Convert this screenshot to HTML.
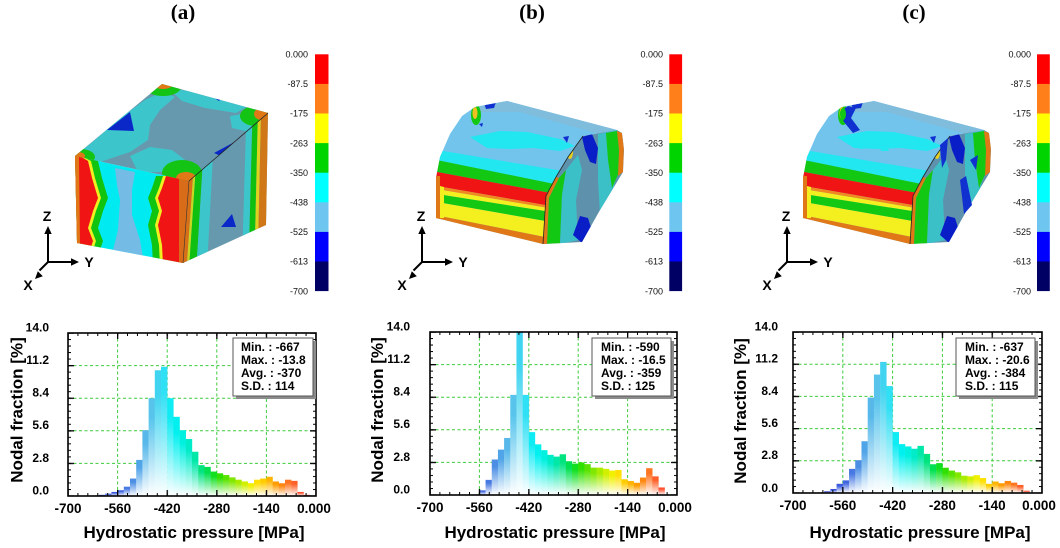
<!DOCTYPE html>
<html><head><meta charset="utf-8"><style>
html,body{margin:0;padding:0;background:#fff}
svg{display:block}
.ti{font-family:"Liberation Serif",serif;font-weight:bold;font-size:21px;text-anchor:middle}
.cb{font-family:"Liberation Sans",sans-serif;font-size:9px;text-anchor:end;fill:#111}
.ax{font-family:"Liberation Sans",sans-serif;font-weight:bold;font-size:14px;text-anchor:middle}
.yt{font-family:"Liberation Sans",sans-serif;font-weight:bold;font-size:12px;text-anchor:end}
.xt{font-family:"Liberation Sans",sans-serif;font-weight:bold;font-size:13.5px;text-anchor:middle}
.lb{font-family:"Liberation Sans",sans-serif;font-weight:bold;font-size:17px;text-anchor:middle}
.st{font-family:"Liberation Sans",sans-serif;font-weight:bold;font-size:12px}
</style></head><body>
<svg xmlns="http://www.w3.org/2000/svg" width="1060" height="548" viewBox="0 0 1060 548">
<defs>
<linearGradient id="g4" x2="0" y2="1"><stop offset=".2" stop-color="#2a3ad0"/><stop offset="1" stop-color="#fff"/></linearGradient>
<linearGradient id="g5" x2="0" y2="1"><stop offset=".2" stop-color="#2e44d8"/><stop offset="1" stop-color="#fff"/></linearGradient>
<linearGradient id="g6" x2="0" y2="1"><stop offset=".2" stop-color="#3450dc"/><stop offset="1" stop-color="#fff"/></linearGradient>
<linearGradient id="g7" x2="0" y2="1"><stop offset=".2" stop-color="#3a5ade"/><stop offset="1" stop-color="#fff"/></linearGradient>
<linearGradient id="g8" x2="0" y2="1"><stop offset=".2" stop-color="#4066e0"/><stop offset="1" stop-color="#fff"/></linearGradient>
<linearGradient id="g9" x2="0" y2="1"><stop offset=".2" stop-color="#4878e2"/><stop offset="1" stop-color="#fff"/></linearGradient>
<linearGradient id="g10" x2="0" y2="1"><stop offset=".2" stop-color="#4c8ee4"/><stop offset="1" stop-color="#fff"/></linearGradient>
<linearGradient id="g11" x2="0" y2="1"><stop offset=".2" stop-color="#50a4e8"/><stop offset="1" stop-color="#fff"/></linearGradient>
<linearGradient id="g12" x2="0" y2="1"><stop offset=".2" stop-color="#58b8ea"/><stop offset="1" stop-color="#fff"/></linearGradient>
<linearGradient id="g13" x2="0" y2="1"><stop offset=".2" stop-color="#58c4ec"/><stop offset="1" stop-color="#fff"/></linearGradient>
<linearGradient id="g14" x2="0" y2="1"><stop offset=".2" stop-color="#40d4f0"/><stop offset="1" stop-color="#fff"/></linearGradient>
<linearGradient id="g15" x2="0" y2="1"><stop offset=".2" stop-color="#30e0f4"/><stop offset="1" stop-color="#fff"/></linearGradient>
<linearGradient id="g16" x2="0" y2="1"><stop offset=".2" stop-color="#10ecf4"/><stop offset="1" stop-color="#fff"/></linearGradient>
<linearGradient id="g17" x2="0" y2="1"><stop offset=".2" stop-color="#00f0f0"/><stop offset="1" stop-color="#fff"/></linearGradient>
<linearGradient id="g18" x2="0" y2="1"><stop offset=".2" stop-color="#00f0e0"/><stop offset="1" stop-color="#fff"/></linearGradient>
<linearGradient id="g19" x2="0" y2="1"><stop offset=".2" stop-color="#00ecc8"/><stop offset="1" stop-color="#fff"/></linearGradient>
<linearGradient id="g20" x2="0" y2="1"><stop offset=".2" stop-color="#00e8a8"/><stop offset="1" stop-color="#fff"/></linearGradient>
<linearGradient id="g21" x2="0" y2="1"><stop offset=".2" stop-color="#00e480"/><stop offset="1" stop-color="#fff"/></linearGradient>
<linearGradient id="g22" x2="0" y2="1"><stop offset=".2" stop-color="#00e050"/><stop offset="1" stop-color="#fff"/></linearGradient>
<linearGradient id="g23" x2="0" y2="1"><stop offset=".2" stop-color="#10e020"/><stop offset="1" stop-color="#fff"/></linearGradient>
<linearGradient id="g24" x2="0" y2="1"><stop offset=".2" stop-color="#30e000"/><stop offset="1" stop-color="#fff"/></linearGradient>
<linearGradient id="g25" x2="0" y2="1"><stop offset=".2" stop-color="#58e400"/><stop offset="1" stop-color="#fff"/></linearGradient>
<linearGradient id="g26" x2="0" y2="1"><stop offset=".2" stop-color="#80e800"/><stop offset="1" stop-color="#fff"/></linearGradient>
<linearGradient id="g27" x2="0" y2="1"><stop offset=".2" stop-color="#a8ec00"/><stop offset="1" stop-color="#fff"/></linearGradient>
<linearGradient id="g28" x2="0" y2="1"><stop offset=".2" stop-color="#d0f000"/><stop offset="1" stop-color="#fff"/></linearGradient>
<linearGradient id="g29" x2="0" y2="1"><stop offset=".2" stop-color="#f0f000"/><stop offset="1" stop-color="#fff"/></linearGradient>
<linearGradient id="g30" x2="0" y2="1"><stop offset=".2" stop-color="#ffe000"/><stop offset="1" stop-color="#fff"/></linearGradient>
<linearGradient id="g31" x2="0" y2="1"><stop offset=".2" stop-color="#ffcc00"/><stop offset="1" stop-color="#fff"/></linearGradient>
<linearGradient id="g32" x2="0" y2="1"><stop offset=".2" stop-color="#ffb400"/><stop offset="1" stop-color="#fff"/></linearGradient>
<linearGradient id="g33" x2="0" y2="1"><stop offset=".2" stop-color="#ff9c00"/><stop offset="1" stop-color="#fff"/></linearGradient>
<linearGradient id="g34" x2="0" y2="1"><stop offset=".2" stop-color="#ff8810"/><stop offset="1" stop-color="#fff"/></linearGradient>
<linearGradient id="g35" x2="0" y2="1"><stop offset=".2" stop-color="#ff7420"/><stop offset="1" stop-color="#fff"/></linearGradient>
<linearGradient id="g36" x2="0" y2="1"><stop offset=".2" stop-color="#ff6028"/><stop offset="1" stop-color="#fff"/></linearGradient>
<linearGradient id="g37" x2="0" y2="1"><stop offset=".2" stop-color="#ff5030"/><stop offset="1" stop-color="#fff"/></linearGradient>
<linearGradient id="g38" x2="0" y2="1"><stop offset=".2" stop-color="#ff4030"/><stop offset="1" stop-color="#fff"/></linearGradient>

<pattern id="txa" patternUnits="userSpaceOnUse" x="67.5" y="0" width="9.92" height="8"><rect width="1" height="8"/></pattern>
<pattern id="Txa" patternUnits="userSpaceOnUse" x="67.4" y="0" width="49.6" height="8"><rect width="1.3" height="8"/></pattern>
<pattern id="tya" patternUnits="userSpaceOnUse" x="0" y="332.5" width="8" height="6.52"><rect width="8" height="1"/></pattern>
<pattern id="Tya" patternUnits="userSpaceOnUse" x="0" y="332.4" width="8" height="32.6"><rect width="8" height="1.3"/></pattern>

<pattern id="txb" patternUnits="userSpaceOnUse" x="429.5" y="0" width="9.88" height="8"><rect width="1" height="8"/></pattern>
<pattern id="Txb" patternUnits="userSpaceOnUse" x="429.4" y="0" width="49.4" height="8"><rect width="1.3" height="8"/></pattern>
<pattern id="tyb" patternUnits="userSpaceOnUse" x="0" y="331.5" width="8" height="6.52"><rect width="8" height="1"/></pattern>
<pattern id="Tyb" patternUnits="userSpaceOnUse" x="0" y="331.4" width="8" height="32.6"><rect width="8" height="1.3"/></pattern>

<pattern id="txc" patternUnits="userSpaceOnUse" x="792.5" y="0" width="9.96" height="8"><rect width="1" height="8"/></pattern>
<pattern id="Txc" patternUnits="userSpaceOnUse" x="792.4" y="0" width="49.8" height="8"><rect width="1.3" height="8"/></pattern>
<pattern id="tyc" patternUnits="userSpaceOnUse" x="0" y="331.5" width="8" height="6.44"><rect width="8" height="1"/></pattern>
<pattern id="Tyc" patternUnits="userSpaceOnUse" x="0" y="331.4" width="8" height="32.2"><rect width="8" height="1.3"/></pattern>

<clipPath id="cTa"><polygon points="162,84 268,113 189,181 75,156"/></clipPath>
<clipPath id="cFa"><polygon points="75,156 189,181 183,263 77,243"/></clipPath>
<clipPath id="cRa"><polygon points="189,181 268,113 266,225 183,263"/></clipPath>
<clipPath id="cSb"><polygon points="436,178 440,157 450,134 462,116 475,107 507,101 617,130 583,136 568,157 556,177 546,196 543,244 436,218"/></clipPath>
<clipPath id="cRb"><polygon points="583,136 617,130 622,133 624,150 623,172 600,210 582,242 543,244 546,196 556,177 568,157"/></clipPath>
</defs>

<rect width="1060" height="548" fill="#fff"/>

<!-- Titles -->
<text x="183" y="19" class="ti">(a)</text>
<text x="532" y="19" class="ti">(b)</text>
<text x="914" y="19" class="ti">(c)</text>

<!-- ============ CUBE A ============ -->
<g clip-path="url(#cTa)">
<rect x="70" y="80" width="200" height="105" fill="#6799ae"/>
<polygon fill="#3cc6cc" points="75,156 95,140 120,118 145,100 162,92 175,97 160,110 150,125 148,140 130,152 100,162"/>
<polygon fill="#3cc6cc" points="168,88 215,95 248,106 236,113 205,108 182,101"/>
<polygon fill="#3cc6cc" points="130,156 150,147 172,150 185,160 172,172 138,172"/>
<polygon fill="#3cc6cc" points="230,116 255,112 268,113 250,132 232,128"/>
<ellipse cx="163" cy="87" rx="18" ry="9" fill="#14c414"/>
<ellipse cx="163" cy="84" rx="10" ry="5" fill="#e07818"/>
<ellipse cx="256" cy="116" rx="16" ry="10" fill="#14c414"/>
<ellipse cx="262" cy="114" rx="8" ry="6" fill="#e07818"/>
<ellipse cx="81" cy="157" rx="14" ry="8" fill="#14c414"/>
<ellipse cx="78" cy="156" rx="7" ry="4" fill="#e07818"/>
<ellipse cx="182" cy="173" rx="20" ry="13" fill="#14c414"/>
<ellipse cx="186" cy="178" rx="10" ry="6" fill="#e07818"/>
<polygon fill="#0a28c8" points="107,130 130,112 134,131"/>
<polygon fill="#0a28c8" points="214,153 240,139 237,163"/>
<polygon fill="#0a28c8" points="213,97 224,95 219,101"/>
</g>
<g clip-path="url(#cFa)">
<rect x="70" y="150" width="125" height="120" fill="#00eaf2"/>
<polygon fill="#74bce6" points="115,168 135,172 132,190 132,215 140,240 143,258 113,250 118,230 120,200 117,185"/>
<polygon fill="#10c410" points="70,150 98,161 102,178 108,198 103,211 98,228 103,241 100,250 70,250"/>
<polygon fill="#f0f020" points="70,150 91,161 95,178 101,198 96,211 91,228 96,241 93,250 70,250"/>
<polygon fill="#f01414" points="70,150 88,161 92,178 98,198 93,211 88,228 93,241 90,250 70,250"/>
<polygon fill="#e07818" points="70,150 79,156 80,245 70,250"/>
<polygon fill="#10c410" points="156,176 152,188 148,198 152,211 148,225 152,245 153,265 195,265 195,176"/>
<polygon fill="#f0f020" points="163,176 159,188 155,198 159,211 155,225 159,245 160,265 195,265 195,176"/>
<polygon fill="#f01414" points="166,176 162,188 158,198 162,211 158,225 162,245 163,265 195,265 195,176"/>
<polygon fill="#d86c18" points="179,176 195,176 195,265 179,265"/>
</g>
<g clip-path="url(#cRa)">
<rect x="180" y="108" width="92" height="158" fill="#6799ae"/>
<polygon fill="#d87018" points="189,181 192.95,177.6 187.15,261.1 183,263"/>
<polygon fill="#c8d820" points="192.95,177.6 195.3,175.6 189.6,260 187.15,261.1"/>
<polygon fill="#10c010" points="195.3,175.6 202.4,169.4 197.1,256.5 189.6,260"/>
<polygon fill="#3cc6cc" points="202.4,169.4 212.7,160.6 207.9,251.6 197.1,256.5"/>
<polygon fill="#3cc6cc" points="245.9,132 252.2,126.6 249.4,232.6 242.8,235.6"/>
<polygon fill="#10c010" points="252.2,126.6 257.7,121.8 255.2,230 249.4,232.6"/>
<polygon fill="#e0d020" points="257.7,121.8 260.9,119.1 258.5,228.4 255.2,230"/>
<polygon fill="#d07818" points="260.9,119.1 272,110 272,226 258.5,228.4"/>
<polygon fill="#0a28c8" points="221,227 232,214 236,227"/>
</g>
<line x1="189" y1="181" x2="268" y2="113" stroke="#222" stroke-width="0.8"/>
<line x1="189" y1="181" x2="183" y2="263" stroke="#333" stroke-width="0.6"/>

<!-- ============ CUBE B ============ -->
<g id="cubeB">
<g clip-path="url(#cSb)">
<rect x="430" y="95" width="192" height="160" fill="#72c4ec"/>
<polygon fill="#80bcdc" points="475,104 507,100 617,129 600,134 520,112 480,112"/>
<polygon fill="#22e6f0" points="470,137 500,131 527,132 560,139 575,146 560,151 533,148 510,149 487,148"/>
<polygon fill="#22e6f0" points="430,148.8 560,170.5 560,185.1 430,158.6"/>
<polygon fill="#12c812" points="430,158.6 560,185.1 560,194.8 430,170.7"/>
<polygon fill="#f01414" points="430,170.7 560,194.8 560,207.6 430,184.8"/>
<polygon fill="#f08a20" points="430,184.8 560,207.6 560,210 430,188"/>
<polygon fill="#f4f020" points="430,188 560,210 560,213.4 430,192.9"/>
<polygon fill="#12c812" points="430,192.9 560,213.4 560,223.6 430,200.8"/>
<polygon fill="#f4f020" points="430,200.8 560,223.6 560,240 430,214"/>
<polygon fill="#e07818" points="430,214 560,240 560,260 430,260"/>
<polygon fill="#e07818" points="430,176 440,176 440,220 430,220"/>
<polygon fill="#f4f020" points="440,186 444,187 444,218 440,218"/>
<ellipse cx="476" cy="115" rx="5" ry="10" fill="#12c812"/>
<ellipse cx="475" cy="113" rx="2.5" ry="6" fill="#f0c020"/>
<polygon fill="#1030d0" points="484,103 496,102 494,108 486,109"/>
<polygon fill="#1030d0" points="479,124 483,123 482,127"/>
<polygon fill="#1030d0" points="563,137 569,136 567,143"/>
</g>
<g clip-path="url(#cRb)">
<rect x="540" y="125" width="88" height="125" fill="#5e92ac"/>
<polygon fill="#e07818" points="546,196 556,177 559,178 549,198 547,246 543,246"/>
<polygon fill="#12c812" points="549,198 559,178 566,170 562,195 560,244 547,246"/>
<polygon fill="#3cc0c8" points="566,170 578,155 582,170 576,200 578,240 560,244 562,195"/>
<polygon fill="#3cc0c8" points="598,134 617,130 620,160 612,195 600,215 598,180"/>
<polygon fill="#12c812" points="606,133 617,131 621,145 620,170 612,188 608,160"/>
<polygon fill="#e07818" points="617,131 622,133 624,145 623,172 618,176 619,150"/>
<polygon fill="#0a1ec8" points="582,137 592,134 598,148 596,164 590,162 585,150"/>
<polygon fill="#0a1ec8" points="573,235 580,216 588,218 593,234 582,243"/>
<polygon fill="#0a1ec8" points="600,212 606,204 604,222"/>
<ellipse cx="570" cy="152" rx="3" ry="7" fill="#e8d020"/>
</g>
<polyline points="583,136 568,157 556,177 546,196 543,244" fill="none" stroke="#222" stroke-width="0.8"/>
</g>

<!-- ============ CUBE C ============ -->
<use href="#cubeB" transform="translate(367,0)"/>
<polygon fill="#1030d0" points="840,112 848,106 856,108 851,118 860,130 853,133 844,122"/>
<ellipse cx="843" cy="114" rx="3" ry="6" fill="#12c812"/>
<polygon fill="#1030d0" points="940,145 948,138 946,160 942,168"/>
<polygon fill="#1030d0" points="960,180 966,176 972,205 964,214"/>
<polygon fill="#1030d0" points="970,160 978,155 976,170"/>
<polygon fill="#22e6f0" points="858,146 870,144 872,148 860,149"/>
<polygon fill="#22e6f0" points="880,148 888,147 889,151 881,151"/>

<!-- Colorbars -->
<g>
<rect x="315" y="54.3" width="13.5" height="29.9" fill="#ff0000"/>
<rect x="315" y="83.9" width="13.5" height="29.9" fill="#ff7f1a"/>
<rect x="315" y="113.5" width="13.5" height="29.9" fill="#ffff00"/>
<rect x="315" y="143.1" width="13.5" height="29.9" fill="#00d400"/>
<rect x="315" y="172.7" width="13.5" height="29.9" fill="#00ffff"/>
<rect x="315" y="202.3" width="13.5" height="29.9" fill="#6ec6f0"/>
<rect x="315" y="231.9" width="13.5" height="29.9" fill="#0000ff"/>
<rect x="315" y="261.5" width="13.5" height="29.6" fill="#000064"/>
</g>
<g>
<rect x="669.3" y="54.3" width="12.8" height="29.9" fill="#ff0000"/>
<rect x="669.3" y="83.9" width="12.8" height="29.9" fill="#ff7f1a"/>
<rect x="669.3" y="113.5" width="12.8" height="29.9" fill="#ffff00"/>
<rect x="669.3" y="143.1" width="12.8" height="29.9" fill="#00d400"/>
<rect x="669.3" y="172.7" width="12.8" height="29.9" fill="#00ffff"/>
<rect x="669.3" y="202.3" width="12.8" height="29.9" fill="#6ec6f0"/>
<rect x="669.3" y="231.9" width="12.8" height="29.9" fill="#0000ff"/>
<rect x="669.3" y="261.5" width="12.8" height="29.6" fill="#000064"/>
</g>
<g>
<rect x="1037" y="54.3" width="12.8" height="29.9" fill="#ff0000"/>
<rect x="1037" y="83.9" width="12.8" height="29.9" fill="#ff7f1a"/>
<rect x="1037" y="113.5" width="12.8" height="29.9" fill="#ffff00"/>
<rect x="1037" y="143.1" width="12.8" height="29.9" fill="#00d400"/>
<rect x="1037" y="172.7" width="12.8" height="29.9" fill="#00ffff"/>
<rect x="1037" y="202.3" width="12.8" height="29.9" fill="#6ec6f0"/>
<rect x="1037" y="231.9" width="12.8" height="29.9" fill="#0000ff"/>
<rect x="1037" y="261.5" width="12.8" height="29.6" fill="#000064"/>
</g>
<g class="cb">
<text x="308" y="57.5">0.000</text><text x="308" y="87.1">-87.5</text><text x="308" y="116.7">-175</text><text x="308" y="146.3">-263</text><text x="308" y="175.9">-350</text><text x="308" y="205.5">-438</text><text x="308" y="235.1">-525</text><text x="308" y="264.7">-613</text><text x="308" y="294.3">-700</text>
<text x="663" y="57.5">0.000</text><text x="663" y="87.1">-87.5</text><text x="663" y="116.7">-175</text><text x="663" y="146.3">-263</text><text x="663" y="175.9">-350</text><text x="663" y="205.5">-438</text><text x="663" y="235.1">-525</text><text x="663" y="264.7">-613</text><text x="663" y="294.3">-700</text>
<text x="1031" y="57.5">0.000</text><text x="1031" y="87.1">-87.5</text><text x="1031" y="116.7">-175</text><text x="1031" y="146.3">-263</text><text x="1031" y="175.9">-350</text><text x="1031" y="205.5">-438</text><text x="1031" y="235.1">-525</text><text x="1031" y="264.7">-613</text><text x="1031" y="294.3">-700</text>
</g>

<!-- Axis triads -->
<g stroke="#000" stroke-width="2" fill="none">
<path d="M48 262 V233 M48 262 H72 M48 262 L39.5 270.5"/>
<path d="M422 262 V233 M422 262 H446 M422 262 L413.5 270.5"/>
<path d="M787 262 V233 M787 262 H811 M787 262 L778.5 270.5"/>
</g>
<g fill="#000">
<polygon points="48,226 44.3,234 51.7,234"/><polygon points="79,262 71,258.3 71,265.7"/><polygon points="35,279 42.8,276.2 37.8,271.2"/>
<polygon points="422,226 418.3,234 425.7,234"/><polygon points="453,262 445,258.3 445,265.7"/><polygon points="409,279 416.8,276.2 411.8,271.2"/>
<polygon points="787,226 783.3,234 790.7,234"/><polygon points="818,262 810,258.3 810,265.7"/><polygon points="774,279 781.8,276.2 776.8,271.2"/>
</g>
<g class="ax">
<text x="47" y="221">Z</text><text x="89" y="267">Y</text><text x="28" y="290">X</text>
<text x="421" y="221">Z</text><text x="463" y="267">Y</text><text x="402" y="290">X</text>
<text x="786" y="221">Z</text><text x="828" y="267">Y</text><text x="767" y="290">X</text>
</g>

<!-- ============ HISTOGRAM A ============ -->
<g stroke="#3ccc3c" stroke-width="1" stroke-dasharray="3,2.5">
<path d="M117.6 333V496M167.2 333V496M216.8 333V496M266.4 333V496M68 365.6H316M68 398.2H316M68 430.8H316M68 463.4H316"/>
</g>
<g transform="translate(68,496) scale(6.2,11.643)">
<rect x="4" y="-.05" width="1.03" height=".05" fill="url(#g4)"/>
<rect x="5" y="-.1" width="1.03" height=".1" fill="url(#g5)"/>
<rect x="6" y="-.2" width="1.03" height=".2" fill="url(#g6)"/>
<rect x="7" y="-.35" width="1.03" height=".35" fill="url(#g7)"/>
<rect x="8" y="-.5" width="1.03" height=".5" fill="url(#g8)"/>
<rect x="9" y="-.8" width="1.03" height=".8" fill="url(#g9)"/>
<rect x="10" y="-1.5" width="1.03" height="1.5" fill="url(#g10)"/>
<rect x="11" y="-3.1" width="1.03" height="3.1" fill="url(#g11)"/>
<rect x="12" y="-5.65" width="1.03" height="5.65" fill="url(#g12)"/>
<rect x="13" y="-8.4" width="1.03" height="8.4" fill="url(#g13)"/>
<rect x="14" y="-10.8" width="1.03" height="10.8" fill="url(#g14)"/>
<rect x="15" y="-11.1" width="1.03" height="11.1" fill="url(#g15)"/>
<rect x="16" y="-8.4" width="1.03" height="8.4" fill="url(#g16)"/>
<rect x="17" y="-6.8" width="1.03" height="6.8" fill="url(#g17)"/>
<rect x="18" y="-5.65" width="1.03" height="5.65" fill="url(#g18)"/>
<rect x="19" y="-4.9" width="1.03" height="4.9" fill="url(#g19)"/>
<rect x="20" y="-3.8" width="1.03" height="3.8" fill="url(#g20)"/>
<rect x="21" y="-2.65" width="1.03" height="2.65" fill="url(#g21)"/>
<rect x="22" y="-2.5" width="1.03" height="2.5" fill="url(#g22)"/>
<rect x="23" y="-2.1" width="1.03" height="2.1" fill="url(#g23)"/>
<rect x="24" y="-1.95" width="1.03" height="1.95" fill="url(#g24)"/>
<rect x="25" y="-1.8" width="1.03" height="1.8" fill="url(#g25)"/>
<rect x="26" y="-1.6" width="1.03" height="1.6" fill="url(#g26)"/>
<rect x="27" y="-1.4" width="1.03" height="1.4" fill="url(#g27)"/>
<rect x="28" y="-1.25" width="1.03" height="1.25" fill="url(#g28)"/>
<rect x="29" y="-1.1" width="1.03" height="1.1" fill="url(#g29)"/>
<rect x="30" y="-1.4" width="1.03" height="1.4" fill="url(#g30)"/>
<rect x="31" y="-1.5" width="1.03" height="1.5" fill="url(#g31)"/>
<rect x="32" y="-1.65" width="1.03" height="1.65" fill="url(#g32)"/>
<rect x="33" y="-1.25" width="1.03" height="1.25" fill="url(#g33)"/>
<rect x="34" y="-1.1" width="1.03" height="1.1" fill="url(#g34)"/>
<rect x="35" y="-1.4" width="1.03" height="1.4" fill="url(#g35)"/>
<rect x="36" y="-1.3" width="1.03" height="1.3" fill="url(#g36)"/>
<rect x="37" y="-.35" width="1.03" height=".35" fill="url(#g37)"/>
<rect x="38" y="-.1" width="1.03" height=".1" fill="url(#g38)"/>
</g>
<rect x="68" y="333" width="248" height="3" fill="url(#txa)"/>
<rect x="68" y="493" width="248" height="3" fill="url(#txa)"/>
<rect x="68" y="333" width="248" height="6" fill="url(#Txa)"/>
<rect x="68" y="490" width="248" height="6" fill="url(#Txa)"/>
<rect x="68" y="333" width="3" height="163" fill="url(#tya)"/>
<rect x="313" y="333" width="3" height="163" fill="url(#tya)"/>
<rect x="68" y="333" width="6" height="163" fill="url(#Tya)"/>
<rect x="310" y="333" width="6" height="163" fill="url(#Tya)"/>
<rect x="68" y="333" width="248" height="163" fill="none" stroke="#000" stroke-width="1.6"/>
<rect x="236" y="341" width="80" height="58" fill="#8c8c8c"/>
<rect x="233" y="338" width="80" height="58" fill="#fff" stroke="#555" stroke-width="1"/>
<g class="st"><text x="241" y="351">Min. : -667</text><text x="241" y="364">Max. : -13.8</text><text x="241" y="377">Avg. : -370</text><text x="241" y="390">S.D. : 114</text></g>
<g class="yt"><text x="49" y="331.5">14.0</text><text x="49" y="364">11.2</text><text x="49" y="396.6">8.4</text><text x="49" y="429.2">5.6</text><text x="49" y="461.8">2.8</text><text x="49" y="494.4">0.0</text></g>
<g class="xt"><text x="68" y="513">-700</text><text x="117.6" y="513">-560</text><text x="167.2" y="513">-420</text><text x="216.8" y="513">-280</text><text x="266.4" y="513">-140</text><text x="314" y="513">0.000</text></g>
<text class="lb" x="194" y="538">Hydrostatic pressure [MPa]</text>
<text class="lb" transform="translate(22.5,410) rotate(-90)">Nodal fraction [%]</text>

<!-- ============ HISTOGRAM B ============ -->
<g stroke="#3ccc3c" stroke-width="1" stroke-dasharray="3,2.5">
<path d="M479.4 332V495M528.8 332V495M578.2 332V495M627.6 332V495M430 364.6H677M430 397.2H677M430 429.8H677M430 462.4H677"/>
</g>
<g transform="translate(430,495) scale(6.175,11.643)">
<rect x="7" y="-.05" width="1.03" height=".05" fill="url(#g7)"/>
<rect x="8" y="-.4" width="1.03" height=".4" fill="url(#g8)"/>
<rect x="9" y="-1.3" width="1.03" height="1.3" fill="url(#g9)"/>
<rect x="10" y="-3.05" width="1.03" height="3.05" fill="url(#g10)"/>
<rect x="11" y="-3.9" width="1.03" height="3.9" fill="url(#g11)"/>
<rect x="12" y="-4.9" width="1.03" height="4.9" fill="url(#g12)"/>
<rect x="13" y="-8.6" width="1.03" height="8.6" fill="url(#g13)"/>
<rect x="14" y="-14" width="1.03" height="14" fill="url(#g14)"/>
<rect x="15" y="-8.6" width="1.03" height="8.6" fill="url(#g15)"/>
<rect x="16" y="-5.4" width="1.03" height="5.4" fill="url(#g16)"/>
<rect x="17" y="-4.35" width="1.03" height="4.35" fill="url(#g17)"/>
<rect x="18" y="-3.85" width="1.03" height="3.85" fill="url(#g18)"/>
<rect x="19" y="-3.45" width="1.03" height="3.45" fill="url(#g19)"/>
<rect x="20" y="-3.3" width="1.03" height="3.3" fill="url(#g20)"/>
<rect x="21" y="-3.5" width="1.03" height="3.5" fill="url(#g21)"/>
<rect x="22" y="-2.9" width="1.03" height="2.9" fill="url(#g22)"/>
<rect x="23" y="-2.7" width="1.03" height="2.7" fill="url(#g23)"/>
<rect x="24" y="-2.8" width="1.03" height="2.8" fill="url(#g24)"/>
<rect x="25" y="-2.65" width="1.03" height="2.65" fill="url(#g25)"/>
<rect x="26" y="-2.35" width="1.03" height="2.35" fill="url(#g26)"/>
<rect x="27" y="-2.35" width="1.03" height="2.35" fill="url(#g27)"/>
<rect x="28" y="-2.25" width="1.03" height="2.25" fill="url(#g28)"/>
<rect x="29" y="-2.1" width="1.03" height="2.1" fill="url(#g29)"/>
<rect x="30" y="-2.15" width="1.03" height="2.15" fill="url(#g30)"/>
<rect x="31" y="-1.35" width="1.03" height="1.35" fill="url(#g31)"/>
<rect x="32" y="-1.2" width="1.03" height="1.2" fill="url(#g32)"/>
<rect x="33" y="-1.05" width="1.03" height="1.05" fill="url(#g33)"/>
<rect x="34" y="-1.5" width="1.03" height="1.5" fill="url(#g34)"/>
<rect x="35" y="-2.3" width="1.03" height="2.3" fill="url(#g35)"/>
<rect x="36" y="-1.6" width="1.03" height="1.6" fill="url(#g36)"/>
<rect x="37" y="-.65" width="1.03" height=".65" fill="url(#g37)"/>
</g>
<rect x="430" y="332" width="247" height="3" fill="url(#txb)"/>
<rect x="430" y="492" width="247" height="3" fill="url(#txb)"/>
<rect x="430" y="332" width="247" height="6" fill="url(#Txb)"/>
<rect x="430" y="489" width="247" height="6" fill="url(#Txb)"/>
<rect x="430" y="332" width="3" height="163" fill="url(#tyb)"/>
<rect x="674" y="332" width="3" height="163" fill="url(#tyb)"/>
<rect x="430" y="332" width="6" height="163" fill="url(#Tyb)"/>
<rect x="671" y="332" width="6" height="163" fill="url(#Tyb)"/>
<rect x="430" y="332" width="247" height="163" fill="none" stroke="#000" stroke-width="1.6"/>
<rect x="595" y="341" width="79" height="58" fill="#8c8c8c"/>
<rect x="592" y="338" width="79" height="58" fill="#fff" stroke="#555" stroke-width="1"/>
<g class="st"><text x="601" y="351">Min. : -590</text><text x="601" y="364">Max. : -16.5</text><text x="601" y="377">Avg. : -359</text><text x="601" y="390">S.D. : 125</text></g>
<g class="yt"><text x="410" y="330.5">14.0</text><text x="410" y="363">11.2</text><text x="410" y="395.6">8.4</text><text x="410" y="428.2">5.6</text><text x="410" y="460.8">2.8</text><text x="410" y="493.4">0.0</text></g>
<g class="xt"><text x="430" y="512">-700</text><text x="479.4" y="512">-560</text><text x="528.8" y="512">-420</text><text x="578.2" y="512">-280</text><text x="627.6" y="512">-140</text><text x="675" y="512">0.000</text></g>
<text class="lb" x="555" y="538">Hydrostatic pressure [MPa]</text>
<text class="lb" transform="translate(383,410) rotate(-90)">Nodal fraction [%]</text>

<!-- ============ HISTOGRAM C ============ -->
<g stroke="#3ccc3c" stroke-width="1" stroke-dasharray="3,2.5">
<path d="M842.8 332V493M892.6 332V493M942.4 332V493M992.2 332V493M793 364.2H1042M793 396.4H1042M793 428.6H1042M793 460.8H1042"/>
</g>
<g transform="translate(793,493) scale(6.225,11.5)">
<rect x="4" y="-.05" width="1.03" height=".05" fill="url(#g4)"/>
<rect x="5" y="-.15" width="1.03" height=".15" fill="url(#g5)"/>
<rect x="6" y="-.35" width="1.03" height=".35" fill="url(#g6)"/>
<rect x="7" y="-.8" width="1.03" height=".8" fill="url(#g7)"/>
<rect x="8" y="-1.1" width="1.03" height="1.1" fill="url(#g8)"/>
<rect x="9" y="-2.1" width="1.03" height="2.1" fill="url(#g9)"/>
<rect x="10" y="-2.85" width="1.03" height="2.85" fill="url(#g10)"/>
<rect x="11" y="-4.5" width="1.03" height="4.5" fill="url(#g11)"/>
<rect x="12" y="-8.3" width="1.03" height="8.3" fill="url(#g12)"/>
<rect x="13" y="-10.3" width="1.03" height="10.3" fill="url(#g13)"/>
<rect x="14" y="-11.4" width="1.03" height="11.4" fill="url(#g14)"/>
<rect x="15" y="-9.3" width="1.03" height="9.3" fill="url(#g15)"/>
<rect x="16" y="-5.3" width="1.03" height="5.3" fill="url(#g16)"/>
<rect x="17" y="-4.25" width="1.03" height="4.25" fill="url(#g17)"/>
<rect x="18" y="-4.05" width="1.03" height="4.05" fill="url(#g18)"/>
<rect x="19" y="-3.85" width="1.03" height="3.85" fill="url(#g19)"/>
<rect x="20" y="-4.1" width="1.03" height="4.1" fill="url(#g20)"/>
<rect x="21" y="-3.4" width="1.03" height="3.4" fill="url(#g21)"/>
<rect x="22" y="-2.5" width="1.03" height="2.5" fill="url(#g22)"/>
<rect x="23" y="-2.6" width="1.03" height="2.6" fill="url(#g23)"/>
<rect x="24" y="-2.2" width="1.03" height="2.2" fill="url(#g24)"/>
<rect x="25" y="-1.95" width="1.03" height="1.95" fill="url(#g25)"/>
<rect x="26" y="-1.8" width="1.03" height="1.8" fill="url(#g26)"/>
<rect x="27" y="-1.5" width="1.03" height="1.5" fill="url(#g27)"/>
<rect x="28" y="-1.45" width="1.03" height="1.45" fill="url(#g28)"/>
<rect x="29" y="-1.55" width="1.03" height="1.55" fill="url(#g29)"/>
<rect x="30" y="-1.3" width="1.03" height="1.3" fill="url(#g30)"/>
<rect x="31" y="-.8" width="1.03" height=".8" fill="url(#g31)"/>
<rect x="32" y="-1" width="1.03" height="1" fill="url(#g32)"/>
<rect x="33" y="-.85" width="1.03" height=".85" fill="url(#g33)"/>
<rect x="34" y="-1.05" width="1.03" height="1.05" fill="url(#g34)"/>
<rect x="35" y="-.9" width="1.03" height=".9" fill="url(#g35)"/>
<rect x="36" y="-.7" width="1.03" height=".7" fill="url(#g36)"/>
<rect x="37" y="-.2" width="1.03" height=".2" fill="url(#g37)"/>
</g>
<rect x="793" y="332" width="249" height="3" fill="url(#txc)"/>
<rect x="793" y="490" width="249" height="3" fill="url(#txc)"/>
<rect x="793" y="332" width="249" height="6" fill="url(#Txc)"/>
<rect x="793" y="487" width="249" height="6" fill="url(#Txc)"/>
<rect x="793" y="332" width="3" height="161" fill="url(#tyc)"/>
<rect x="1039" y="332" width="3" height="161" fill="url(#tyc)"/>
<rect x="793" y="332" width="6" height="161" fill="url(#Tyc)"/>
<rect x="1036" y="332" width="6" height="161" fill="url(#Tyc)"/>
<rect x="793" y="332" width="249" height="161" fill="none" stroke="#000" stroke-width="1.6"/>
<rect x="959" y="341" width="79" height="58" fill="#8c8c8c"/>
<rect x="956" y="338" width="79" height="58" fill="#fff" stroke="#555" stroke-width="1"/>
<g class="st"><text x="965" y="351">Min. : -637</text><text x="965" y="364">Max. : -20.6</text><text x="965" y="377">Avg. : -384</text><text x="965" y="390">S.D. : 115</text></g>
<g class="yt"><text x="778" y="330.5">14.0</text><text x="778" y="362.6">11.2</text><text x="778" y="394.8">8.4</text><text x="778" y="427">5.6</text><text x="778" y="459.2">2.8</text><text x="778" y="491.8">0.0</text></g>
<g class="xt"><text x="793" y="510">-700</text><text x="842.8" y="510">-560</text><text x="892.6" y="510">-420</text><text x="942.4" y="510">-280</text><text x="992.2" y="510">-140</text><text x="1039" y="510">0.000</text></g>
<text class="lb" x="920" y="538">Hydrostatic pressure [MPa]</text>
<text class="lb" transform="translate(746,411) rotate(-90)">Nodal fraction [%]</text>
</svg>
</body></html>
